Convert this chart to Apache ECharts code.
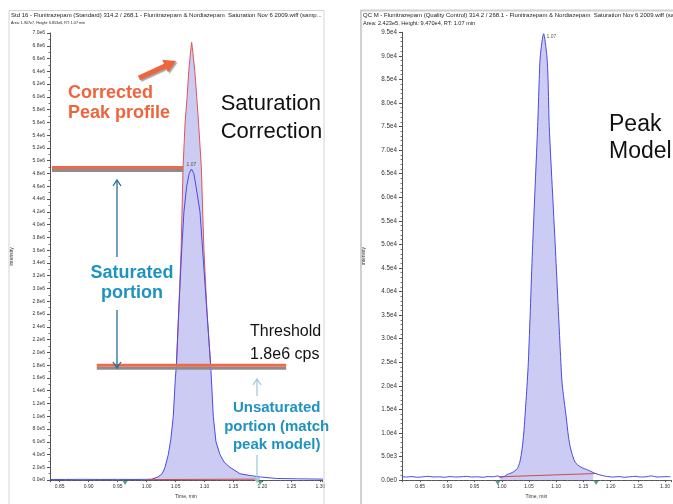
<!DOCTYPE html>
<html><head><meta charset="utf-8">
<script src="https://cdn.jsdelivr.net/npm/echarts@6/dist/echarts.min.js"></script>
<style>html,body{margin:0;padding:0;background:#fff}#c{width:673px;height:504px}</style>
</head><body><div id="c"></div>
<script>
// ---------- Left panel: saturated standard ----------
const satX = [0.833, 0.86, 0.89, 0.92, 0.95, 0.98, 1.000, 1.009, 1.012, 1.0197, 1.027, 1.0318, 1.0375, 1.0420, 1.0461, 1.0497, 1.0515, 1.0558, 1.0606, 1.0645, 1.0692, 1.0735, 1.0775, 1.0815, 1.0853, 1.0922, 1.0968, 1.1037, 1.1106, 1.1118, 1.1151, 1.1198, 1.1267, 1.1340, 1.1439, 1.1612, 1.1800, 1.1957, 1.2245, 1.26, 1.305];
const satY = [10000, 10000, 12000, 10000, 11000, 10000, 12000, 15000, 20000, 50000, 100000, 200000, 400000, 650000, 1000000, 1600000, 1800000, 2700000, 3600000, 4200000, 4600000, 4800000, 4870000, 4800000, 4600000, 4200000, 3600000, 2700000, 1800000, 1600000, 1000000, 600000, 400000, 280000, 200000, 100000, 70000, 50000, 25000, 20000, 15000];
const corrX = [1.0515, 1.0558, 1.0596, 1.0630, 1.0665, 1.0700, 1.0728, 1.0758, 1.0778, 1.0798, 1.0833, 1.0865, 1.0897, 1.0945, 1.0990, 1.1045, 1.1106];
const corrY = [1800000, 2700000, 3600000, 4900000, 5600000, 6000000, 6400000, 6700000, 6853000, 6700000, 6400000, 6000000, 5600000, 4900000, 3600000, 2600000, 1800000];
const intLeftX = [1.000, 1.190];
const intLeftY = [8000, 15000];
const markLeftX = [0.963, 1.196];
const thresholdLevel = 1800000;
const thresholdSpan = [0.914, 1.241];
const satLevel = 4895000;
const satSpan = [0.8367, 1.0631];
const fillLeftRange = [1.0, 1.2];

// ---------- Right panel: QC peak model ----------
const qcX = [0.817, 0.825, 0.835, 0.845, 0.855, 0.865, 0.875, 0.885, 0.895, 0.905, 0.915, 0.925, 0.935, 0.945, 0.955, 0.965, 0.975, 0.985, 0.993, 0.997, 1.005, 1.010, 1.0191, 1.0282, 1.0331, 1.0373, 1.0404, 1.0446, 1.0488, 1.0568, 1.0659, 1.0688, 1.0708, 1.0768, 1.0828, 1.0850, 1.0872, 1.0981, 1.1085, 1.1109, 1.1182, 1.1224, 1.1266, 1.1346, 1.1448, 1.1588, 1.1680, 1.1770, 1.1920, 1.205, 1.215, 1.225, 1.235, 1.245, 1.255, 1.265, 1.275, 1.285, 1.295, 1.305, 1.310];
const qcY = [700, 650, 750, 600, 700, 800, 650, 700, 600, 750, 650, 700, 800, 650, 700, 600, 750, 700, 900, 600, 800, 1200, 1600, 2400, 3800, 6600, 10000, 16900, 25000, 50000, 75000, 85000, 90000, 94700, 90000, 85000, 75000, 50000, 25000, 20400, 13500, 9300, 6600, 3800, 2800, 2100, 1600, 1200, 800, 650, 750, 600, 700, 800, 650, 700, 900, 650, 700, 750, 700];
const intRightX = [0.995, 1.174];
const intRightY = [700, 1400];
const markRightX = [0.9926, 1.1734];
const fillRightRange = [0.995, 1.175];

const rtLabel = '1.07';
const leftHeader = ['Std 16 - Flunitrazepam (Standard) 314.2 / 268.1 - Flunitrazepam & Nordiazepam  Saturation Nov 6 2009.wiff (samp...', 'Area: 1.907e7, Height: 6.853e6, RT: 1.07 min'];
const rightHeader = ['QC M - Flunitrazepam (Quality Control) 314.2 / 268.1 - Flunitrazepam & Nordiazepam  Saturation Nov 6 2009.wiff (sample 1)', 'Area: 2.423e5, Height: 9.470e4, RT: 1.07 min'];

// ---------- build series data ----------
const zip = (xs, ys) => xs.map((x, i) => [x, ys[i]]);
const fillLeft = [];
satX.forEach((x, i) => { if (x >= fillLeftRange[0] && x <= fillLeftRange[1] && satY[i] < thresholdLevel) fillLeft.push([x, satY[i]]); });
corrX.forEach((x, i) => fillLeft.push([x, corrY[i]]));
fillLeft.sort((a, b) => a[0] - b[0]);
const fillRight = zip(qcX, qcY).filter(p => p[0] >= fillRightRange[0] && p[0] <= fillRightRange[1]);
const apexIdx = (ys) => ys.indexOf(Math.max(...ys));
const iL = apexIdx(satY), iR = apexIdx(qcY);

const FONT = 'Liberation Sans, Arial, sans-serif';
const FILL = '#cbcbf4', BLUE = '#4a4ae4', RED = '#e05555';
const expFmt = v => v.toExponential(1).replace('+', '');

function xAxisCfg(grid, min, max) {
  return {
    gridIndex: grid, type: 'value', min: min, max: max, splitNumber: 9,
    axisLine: { lineStyle: { color: '#555', width: 1 } },
    axisTick: { length: 2, lineStyle: { color: '#555' } },
    minorTick: { show: true, splitNumber: 5, length: 1, lineStyle: { color: '#777' } },
    splitLine: { show: false },
    axisLabel: { fontSize: 5, color: '#333', margin: 4, fontFamily: FONT, showMinLabel: false, showMaxLabel: false, formatter: v => v.toFixed(2) },
    name: 'Time, min', nameLocation: 'middle', nameGap: 13,
    nameTextStyle: { fontSize: 5, color: '#333', fontFamily: FONT }
  };
}
function yAxisCfg(grid, max, interval, fs, minorSplit) {
  return {
    gridIndex: grid, type: 'value', min: 0, max: max, interval: interval,
    axisLine: { show: true, lineStyle: { color: '#555', width: 1 } },
    axisTick: { show: true, length: 3, lineStyle: { color: '#555' } },
    minorTick: { show: true, splitNumber: minorSplit, length: 1.5, lineStyle: { color: '#777' } },
    splitLine: { show: false },
    axisLabel: { fontSize: fs, color: '#333', margin: 5, fontFamily: FONT, formatter: expFmt },
    name: 'Intensity', nameLocation: 'middle', nameRotate: 90, nameGap: 36,
    nameTextStyle: { fontSize: 5, color: '#333', fontFamily: FONT }
  };
}
const lineBase = { type: 'line', showSymbol: false, symbol: 'none', smooth: false, silent: true, animation: false };

const series = [
  // left
  Object.assign({}, lineBase, { xAxisIndex: 0, yAxisIndex: 0, data: fillLeft, lineStyle: { width: 0 }, areaStyle: { color: FILL, opacity: 1 }, z: 1 }),
  Object.assign({}, lineBase, { xAxisIndex: 0, yAxisIndex: 0, data: zip(corrX, corrY), lineStyle: { color: RED, width: 1 }, z: 3 }),
  Object.assign({}, lineBase, { xAxisIndex: 0, yAxisIndex: 0, data: zip(satX, satY), lineStyle: { color: BLUE, width: 1 }, z: 4 }),
  Object.assign({}, lineBase, { xAxisIndex: 0, yAxisIndex: 0, data: zip(intLeftX, intLeftY), lineStyle: { color: '#d04a4a', width: 1 }, z: 5 }),
  Object.assign({}, lineBase, { xAxisIndex: 0, yAxisIndex: 0, data: [[thresholdSpan[0], thresholdLevel], [thresholdSpan[1], thresholdLevel]], lineStyle: { color: '#f0684a', width: 3, shadowColor: '#8c8c8c', shadowOffsetY: 3, shadowBlur: 0 }, z: 6 }),
  Object.assign({}, lineBase, { xAxisIndex: 0, yAxisIndex: 0, data: [[satSpan[0], satLevel], [satSpan[1], satLevel]], lineStyle: { color: '#f0684a', width: 3, shadowColor: '#8c8c8c', shadowOffsetY: 3, shadowBlur: 0 }, z: 6 }),
  { type: 'scatter', xAxisIndex: 0, yAxisIndex: 0, symbolSize: 0, silent: true, animation: false, clip: false,
    data: [[satX[iL], satY[iL]]], label: { show: true, position: 'top', distance: 2, formatter: rtLabel, fontSize: 5, color: '#333', fontFamily: FONT }, z: 7 },
  { type: 'scatter', xAxisIndex: 0, yAxisIndex: 0, symbol: 'triangle', symbolRotate: 180, symbolSize: [5, 4], symbolOffset: [0, 3], silent: true, animation: false, clip: false,
    itemStyle: { color: '#2f8f5f' }, data: markLeftX.map(x => [x, 0]), z: 8 },
  // right
  Object.assign({}, lineBase, { xAxisIndex: 1, yAxisIndex: 1, smooth: 0.25, data: fillRight, lineStyle: { width: 0 }, areaStyle: { color: FILL, opacity: 1 }, z: 1 }),
  Object.assign({}, lineBase, { xAxisIndex: 1, yAxisIndex: 1, data: zip(intRightX, intRightY), lineStyle: { color: '#d04a4a', width: 1 }, z: 3 }),
  Object.assign({}, lineBase, { xAxisIndex: 1, yAxisIndex: 1, smooth: 0.25, data: zip(qcX, qcY), lineStyle: { color: BLUE, width: 1 }, z: 4 }),
  { type: 'scatter', xAxisIndex: 1, yAxisIndex: 1, symbolSize: 0, silent: true, animation: false, clip: false,
    data: [[qcX[iR], qcY[iR]]], label: { show: true, position: 'right', distance: 3, offset: [0, 3], formatter: rtLabel, fontSize: 5, color: '#333', fontFamily: FONT }, z: 7 },
  { type: 'scatter', xAxisIndex: 1, yAxisIndex: 1, symbol: 'triangle', symbolRotate: 180, symbolSize: [5, 4], symbolOffset: [0, 3], silent: true, animation: false, clip: false,
    itemStyle: { color: '#2f8f5f' }, data: markRightX.map(x => [x, 0]), z: 8 }
];

// ---------- annotations ----------
function chevron(x1, y1, x2, y2, color, w) {
  const dx = x2 - x1, dy = y2 - y1, L = Math.hypot(dx, dy), ux = dx / L, uy = dy / L, nx = -uy, ny = ux;
  const hl = 6, hw = 4;
  return [
    { type: 'line', shape: { x1, y1, x2, y2 }, style: { stroke: color, lineWidth: w }, z: 100 },
    { type: 'polyline', shape: { points: [[x2 - hl * ux + hw * nx, y2 - hl * uy + hw * ny], [x2, y2], [x2 - hl * ux - hw * nx, y2 - hl * uy - hw * ny]] }, style: { stroke: color, lineWidth: w, fill: null }, z: 100 }
  ];
}
function blockArrow(x1, y1, x2, y2, color) {
  const dx = x2 - x1, dy = y2 - y1, L = Math.hypot(dx, dy), ux = dx / L, uy = dy / L, nx = -uy, ny = ux;
  const hl = 12, sw = 2.6, hw = 7;
  const hx = x2 - hl * ux, hy = y2 - hl * uy;
  const pts = [[x1 + sw * nx, y1 + sw * ny], [hx + sw * nx, hy + sw * ny], [hx + hw * nx, hy + hw * ny], [x2, y2], [hx - hw * nx, hy - hw * ny], [hx - sw * nx, hy - sw * ny], [x1 - sw * nx, y1 - sw * ny]];
  return { type: 'polygon', shape: { points: pts }, style: { fill: color, shadowColor: 'rgba(90,90,90,0.55)', shadowOffsetX: 1.5, shadowOffsetY: 1.5, shadowBlur: 1 }, z: 100 };
}
function txt(text, x, y, size, color, opts) {
  return Object.assign({ type: 'text', z: 100, style: Object.assign({ text: text, x: x, y: y, font: (opts && opts.bold ? 'bold ' : '') + size + 'px ' + FONT, fill: color, verticalAlign: 'middle', align: 'left' }, opts && opts.style) });
}
const ORANGE = '#f0643c', TEAL = '#1f93c0', DARKB = '#236f9d', LIGHTB = '#a3c9dd';
const graphics = [
  { type: 'rect', shape: { x: 9, y: 10.5, width: 315, height: 500 }, style: { fill: null, stroke: '#d4d4d4', lineWidth: 1 }, z: 90 },
  { type: 'rect', shape: { x: 361, y: 10.5, width: 320, height: 500 }, style: { fill: null, stroke: '#d0d0d0', lineWidth: 2 }, z: 90 },
  txt(leftHeader[0], 11, 15.8, 6, '#222'),
  txt(leftHeader[1], 11, 23.2, 3.7, '#222'),
  txt(rightHeader[0], 363, 15.8, 6, '#222'),
  txt(rightHeader[1], 363, 23.2, 5.6, '#222'),
  txt('Corrected', 68, 93, 18, ORANGE, { bold: true }),
  txt('Peak profile', 68, 113.2, 18, ORANGE, { bold: true }),
  blockArrow(139, 78, 176, 61, ORANGE),
  txt('Saturation', 220.7, 104, 22, '#111'),
  txt('Correction', 220.7, 132.3, 22, '#111'),
  txt('Peak', 609, 124.7, 23, '#111'),
  txt('Model', 609, 152, 23, '#111'),
  txt('Saturated', 132, 273, 18, TEAL, { bold: true, style: { align: 'center' } }),
  txt('portion', 132, 293, 18, TEAL, { bold: true, style: { align: 'center' } }),
  txt('Threshold', 250, 331.7, 16, '#111'),
  txt('1.8e6 cps', 250, 354.4, 16, '#111'),
  txt('Unsaturated', 276.7, 408, 15, TEAL, { bold: true, style: { align: 'center' } }),
  txt('portion (match', 276.7, 426.5, 15, TEAL, { bold: true, style: { align: 'center' } }),
  txt('peak model)', 276.7, 444.8, 15, TEAL, { bold: true, style: { align: 'center' } })
].concat(
  chevron(117, 257, 117, 180, DARKB, 1.3),
  chevron(117, 310, 117, 368, DARKB, 1.3),
  chevron(257, 396, 257, 379, LIGHTB, 1.3),
  chevron(257, 455, 257, 482, LIGHTB, 1.3)
);

const chart = echarts.init(document.getElementById('c'), null, { renderer: 'canvas' });
chart.setOption({
  animation: false,
  backgroundColor: '#fff',
  grid: [
    { left: 50, top: 33, width: 272, height: 456 },
    { left: 402, top: 32.3, width: 271, height: 459.4 }
  ],
  xAxis: [xAxisCfg(0, 0.8333, 1.3028), xAxisCfg(1, 0.8168, 1.3105)],
  yAxis: [yAxisCfg(0, 7000000, 200000, 5, 2), yAxisCfg(1, 95000, 5000, 6.3, 5)],
  series: series,
  graphic: { elements: graphics }
});
</script></body></html>
